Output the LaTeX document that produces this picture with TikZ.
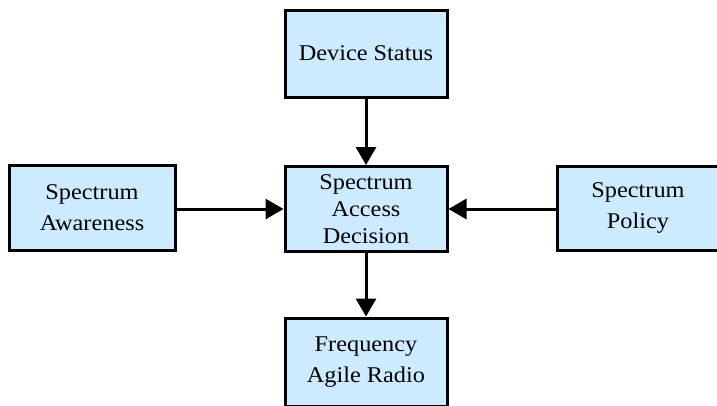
\documentclass[tikz,border=0pt]{standalone}
\usepackage{fontspec}
\setmainfont{Liberation Serif}[FakeStretch=1.08]
\usetikzlibrary{arrows.meta}
\definecolor{boxblue}{RGB}{204,235,255}
\tikzset{
  block/.style={draw=black, line width=3pt, fill=boxblue, align=center,
    inner sep=0pt, font=\fontsize{22.5}{31}\selectfont},
  link/.style={line width=3pt, -{Triangle[width=20pt,length=18pt]}},
}
\begin{document}
\begin{tikzpicture}[x=1pt, y=-1pt]
  \useasboundingbox (0,0) rectangle (717,405);
  \clip (0,0) rectangle (717,405);
  \fill[white] (0,0) rectangle (717,405);

  \node[block, minimum width=162pt, minimum height=87pt] (dev) at (366,53.5) {Device Status};
  \node[block, minimum width=162pt, minimum height=85pt,
        font=\fontsize{22.5}{27}\selectfont] (dec) at (366,209) {Spectrum\\Access\\Decision};
  \node[block, minimum width=166pt, minimum height=85pt] (aw) at (92,207.5) {Spectrum\\Awareness};
  \node[block, minimum width=162pt, minimum height=84pt] (pol) at (638,208) {Spectrum\\Policy};
  \node[block, minimum width=162pt, minimum height=88pt] (frq) at (366,362) {Frequency\\Agile Radio};

  \draw[link] (dev.south) -- (dec.north);
  \draw[link] (aw.east |- dec.west) -- (dec.west);
  \draw[link] (pol.west |- dec.east) -- (dec.east);
  \draw[link] (dec.south) -- (frq.north);
\end{tikzpicture}
\end{document}
